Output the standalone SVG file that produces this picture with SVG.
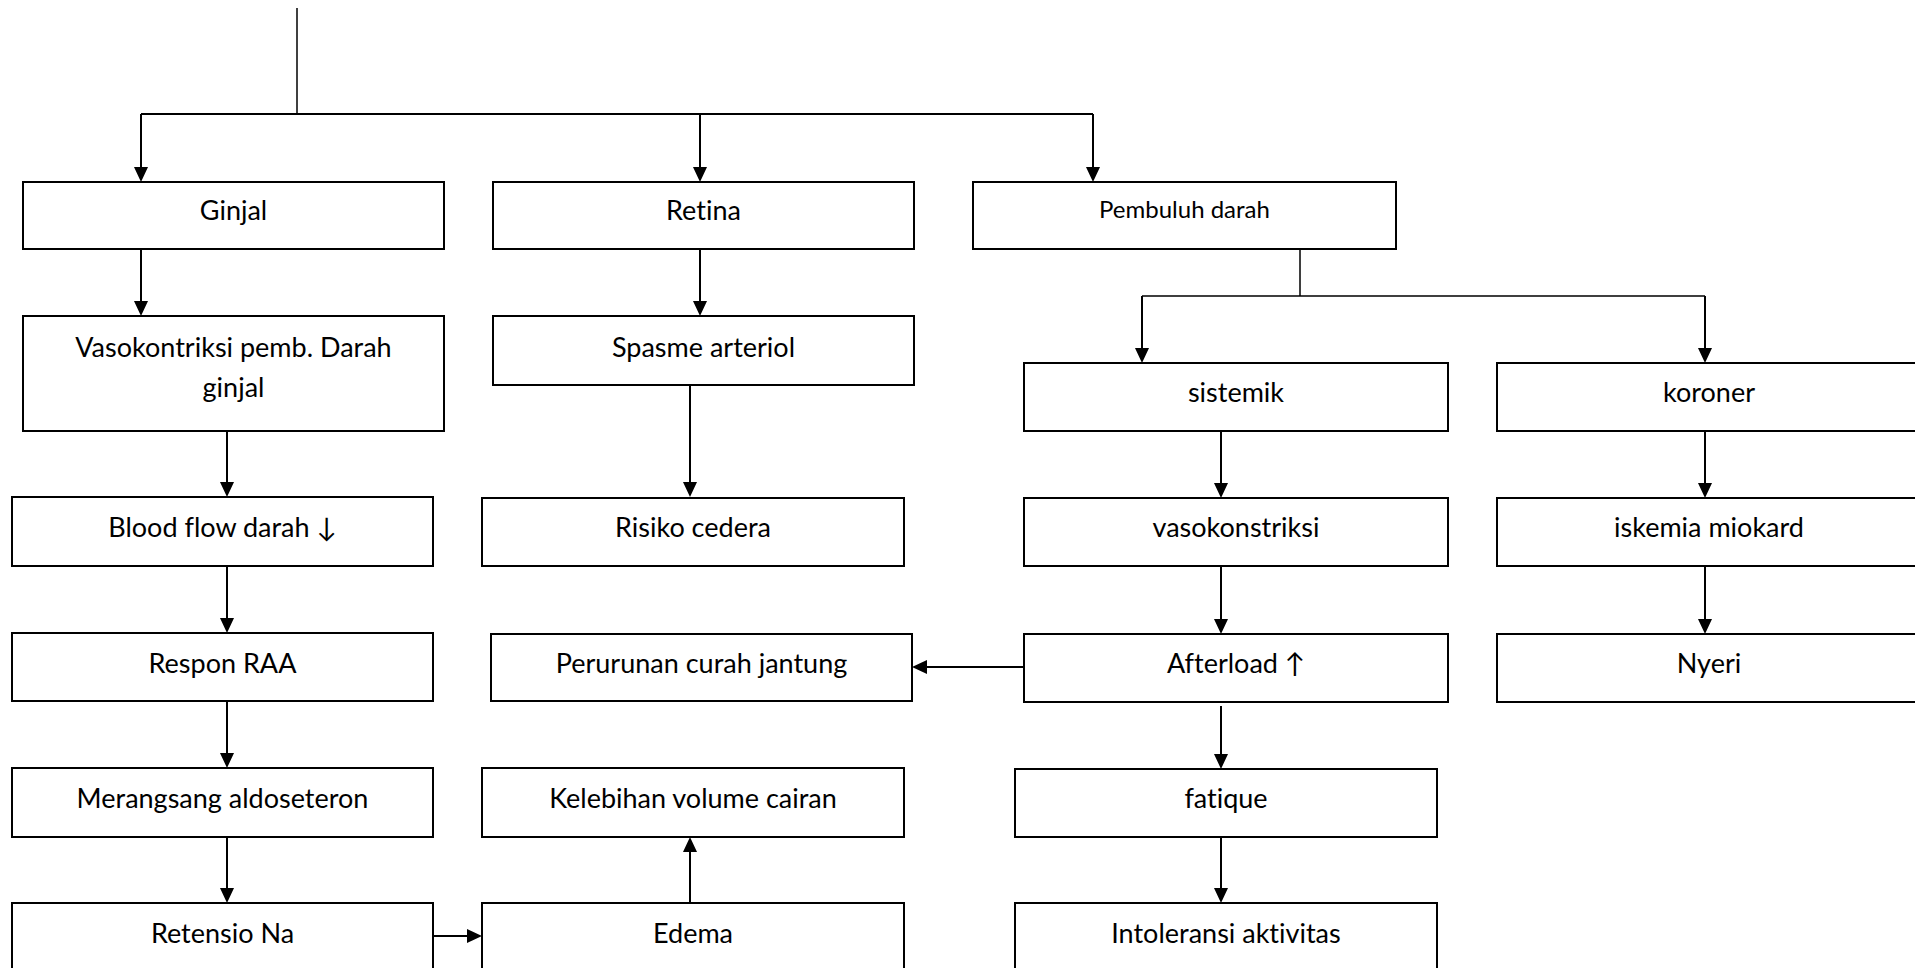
<svg xmlns="http://www.w3.org/2000/svg" width="1915" height="968" viewBox="0 0 1915 968">
<defs>
<style>
.box{fill:#fff;stroke:#000;stroke-width:2}
.t{font-family:Lato,"DejaVu Sans",sans-serif;font-size:27px;fill:#000;text-anchor:middle;font-variant-ligatures:none;font-feature-settings:"liga" 0,"clig" 0}
.ts{font-family:Lato,"DejaVu Sans",sans-serif;font-size:24px;fill:#000;text-anchor:middle;font-variant-ligatures:none;font-feature-settings:"liga" 0,"clig" 0}
.c{fill:none;stroke:#000;stroke-width:2}
.cl{fill:none;stroke:#000;stroke-width:1.5}
</style>
<marker id="ah" viewBox="0 0 15 14" markerWidth="15" markerHeight="14" refX="11" refY="7" orient="auto" markerUnits="userSpaceOnUse">
<path d="M0,0 L15,7 L0,14 z" fill="#000"/>
</marker>
</defs>
<rect width="1915" height="968" fill="#fff"/>
<g id="connectors">
<path class="cl" d="M297,8 V114"/>
<path class="c" d="M141,114 H1093"/>
<path class="c" d="M141,114 V178" marker-end="url(#ah)"/>
<path class="c" d="M700,114 V178" marker-end="url(#ah)"/>
<path class="c" d="M1093,114 V178" marker-end="url(#ah)"/>
<path class="c" d="M141,249 V312" marker-end="url(#ah)"/>
<path class="c" d="M700,249 V312" marker-end="url(#ah)"/>
<path class="c" d="M227,431 V493" marker-end="url(#ah)"/>
<path class="c" d="M227,566 V629" marker-end="url(#ah)"/>
<path class="c" d="M227,701 V764" marker-end="url(#ah)"/>
<path class="c" d="M227,837 V899" marker-end="url(#ah)"/>
<path class="c" d="M433,936 H478" marker-end="url(#ah)"/>
<path class="c" d="M690,385 V493" marker-end="url(#ah)"/>
<path class="c" d="M690,903 V841" marker-end="url(#ah)"/>
<path class="cl" d="M1300,249 V296 M1142,296 H1705"/>
<path class="c" d="M1142,296 V359" marker-end="url(#ah)"/>
<path class="c" d="M1705,296 V359" marker-end="url(#ah)"/>
<path class="c" d="M1221,431 V494" marker-end="url(#ah)"/>
<path class="c" d="M1221,566 V630" marker-end="url(#ah)"/>
<path class="c" d="M1024,667 H916" marker-end="url(#ah)"/>
<path class="c" d="M1221,706 V765" marker-end="url(#ah)"/>
<path class="c" d="M1221,835 V899" marker-end="url(#ah)"/>
<path class="c" d="M1705,431 V494" marker-end="url(#ah)"/>
<path class="c" d="M1705,566 V630" marker-end="url(#ah)"/>
</g>
<g id="ginjal"><rect class="box" x="23" y="182" width="421" height="67"/><text class="t" x="233.5" y="220">Ginjal</text></g>
<g id="vasokontriksi"><rect class="box" x="23" y="316" width="421" height="115"/><text class="t" x="233.5" y="357">Vasokontriksi pemb. Darah</text><text class="t" x="233.5" y="397">ginjal</text></g>
<g id="bloodflow"><rect class="box" x="12" y="497" width="421" height="69"/><text class="t" x="222.5" y="537">Blood flow darah ↓</text></g>
<g id="respon"><rect class="box" x="12" y="633" width="421" height="68"/><text class="t" x="222.5" y="673">Respon RAA</text></g>
<g id="merangsang"><rect class="box" x="12" y="768" width="421" height="69"/><text class="t" x="222.5" y="808">Merangsang aldoseteron</text></g>
<g id="retensio"><rect class="box" x="12" y="903" width="421" height="72"/><text class="t" x="222.5" y="943">Retensio Na</text></g>
<g id="retina"><rect class="box" x="493" y="182" width="421" height="67"/><text class="t" x="703.5" y="220">Retina</text></g>
<g id="spasme"><rect class="box" x="493" y="316" width="421" height="69"/><text class="t" x="703.5" y="357">Spasme arteriol</text></g>
<g id="risiko"><rect class="box" x="482" y="498" width="422" height="68"/><text class="t" x="693" y="537">Risiko cedera</text></g>
<g id="perurunan"><rect class="box" x="491" y="634" width="421" height="67"/><text class="t" x="701.5" y="673">Perurunan curah jantung</text></g>
<g id="kelebihan"><rect class="box" x="482" y="768" width="422" height="69"/><text class="t" x="693" y="808">Kelebihan volume cairan</text></g>
<g id="edema"><rect class="box" x="482" y="903" width="422" height="72"/><text class="t" x="693" y="943">Edema</text></g>
<g id="pembuluh"><rect class="box" x="973" y="182" width="423" height="67"/><text class="ts" x="1184.5" y="218">Pembuluh darah</text></g>
<g id="sistemik"><rect class="box" x="1024" y="363" width="424" height="68"/><text class="t" x="1236" y="402">sistemik</text></g>
<g id="vasokonstriksi"><rect class="box" x="1024" y="498" width="424" height="68"/><text class="t" x="1236" y="537">vasokonstriksi</text></g>
<g id="afterload"><rect class="box" x="1024" y="634" width="424" height="68"/><text class="t" x="1236" y="673">Afterload ↑</text></g>
<g id="fatique"><rect class="box" x="1015" y="769" width="422" height="68"/><text class="t" x="1226" y="808">fatique</text></g>
<g id="intoleransi"><rect class="box" x="1015" y="903" width="422" height="72"/><text class="t" x="1226" y="943">Intoleransi aktivitas</text></g>
<g id="koroner"><rect class="box" x="1497" y="363" width="424" height="68"/><text class="t" x="1709" y="402">koroner</text></g>
<g id="iskemia"><rect class="box" x="1497" y="498" width="424" height="68"/><text class="t" x="1709" y="537">iskemia miokard</text></g>
<g id="nyeri"><rect class="box" x="1497" y="634" width="424" height="68"/><text class="t" x="1709" y="673">Nyeri</text></g>
</svg>
